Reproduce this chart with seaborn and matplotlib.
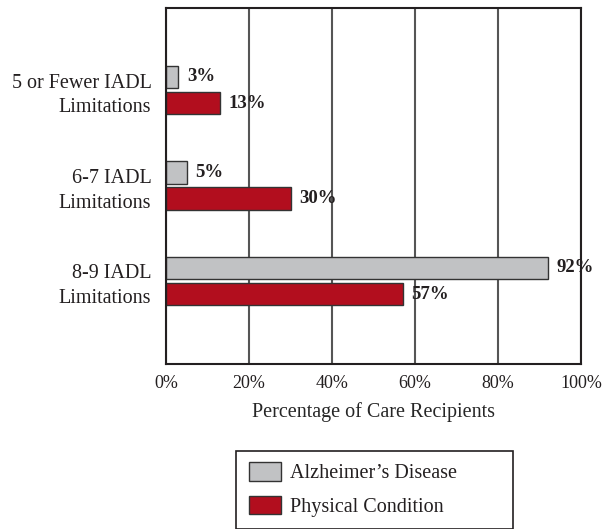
import matplotlib
matplotlib.use("Agg")
import matplotlib.pyplot as plt
from matplotlib.patches import Rectangle
import pandas as pd
import seaborn as sns

# Datos del gráfico
categorias = ["5 or Fewer IADL\nLimitations", "6-7 IADL\nLimitations", "8-9 IADL\nLimitations"]
alzheimer = [3, 5, 92]
fisica = [13, 30, 57]
series = ["Alzheimer\u2019s Disease", "Physical Condition"]
xticks = [0, 20, 40, 60, 80, 100]

sns.set_style("white")
plt.rcParams["font.family"] = ["Liberation Serif", "DejaVu Serif"]
plt.rcParams["text.color"] = "#231f20"

# Tabla larga para seaborn
df = pd.DataFrame({
    "Categoria": categorias * 2,
    "Valor": alzheimer + fisica,
    "Serie": [series[0]] * 3 + [series[1]] * 3,
})

fig = plt.figure(figsize=(6.13, 5.29), dpi=100)
ax = fig.add_axes([166 / 613, 1 - 364 / 529, 415 / 613, 356 / 529])

sns.barplot(data=df, y="Categoria", x="Valor", hue="Serie", hue_order=series,
            palette=["#c1c2c4", "#b20e1e"], width=0.55, gap=0.15,
            edgecolor="#333333", linewidth=1.0, saturation=1, ax=ax, orient="h")

handles, labels = ax.get_legend_handles_labels()
if ax.legend_ is not None:
    ax.legend_.remove()

# Etiquetas de valor al final de cada barra
for cont in ax.containers:
    ax.bar_label(cont, labels=[f"{v:.0f}%" for v in cont.datavalues],
                 padding=6, fontsize=13.5, fontweight="bold")

ax.set_xlim(0, 100)
ax.set_ylim(2.87, -0.86)
ax.set_xticks(xticks)
ax.set_xticklabels([f"{t}%" for t in xticks])
ax.grid(axis="x", color="#555555", linewidth=1.5)
ax.set_axisbelow(True)
ax.tick_params(axis="both", length=0, colors="#231f20")
ax.tick_params(axis="x", pad=8, labelsize=13)
ax.tick_params(axis="y", pad=10.5, labelsize=14.5)
for lbl in ax.get_yticklabels():
    lbl.set_horizontalalignment("right")
    lbl.set_multialignment("right")
    lbl.set_linespacing(1.4)
for s in ax.spines.values():
    s.set_color("#231f20")
    s.set_linewidth(1.5)
ax.set_ylabel("")
ax.set_xlabel("Percentage of Care Recipients", fontsize=14.5, labelpad=7)

# Leyenda con marco propio
fig.patches.append(Rectangle((236 / 613, 0), 277 / 613, 1 - 451 / 529,
                             transform=fig.transFigure, fill=False,
                             edgecolor="#231f20", linewidth=1.2))
fig.legend(handles, labels, loc="upper left", bbox_to_anchor=(233 / 613, 1 - 446 / 529),
           frameon=False, fontsize=14.5, handlelength=1.6, handleheight=1.05,
           labelspacing=0.62, handletextpad=0.45, borderpad=0.3)

fig.savefig("out.png", dpi=100)
